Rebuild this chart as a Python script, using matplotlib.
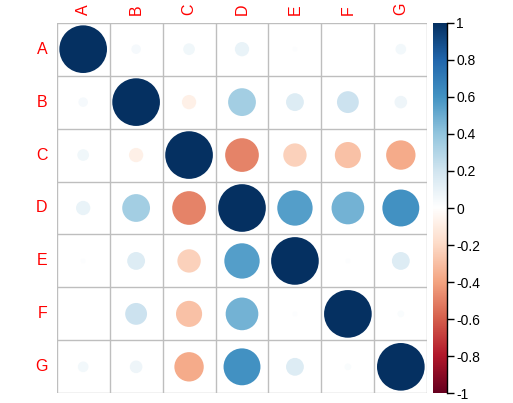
import numpy as np
import matplotlib.pyplot as plt
from matplotlib.colors import LinearSegmentedColormap
from matplotlib.patches import Circle

plt.rcParams['font.family'] = ['Liberation Sans', 'DejaVu Sans']
plt.rcParams['axes.unicode_minus'] = False

labels = ['A', 'B', 'C', 'D', 'E', 'F', 'G']

# 相关系数矩阵
row_A = [1.00, 0.04, 0.06, 0.09, 0.01, 0.00, 0.05]
row_B = [0.04, 1.00, -0.09, 0.34, 0.14, 0.21, 0.07]
row_C = [0.06, -0.09, 1.00, -0.50, -0.24, -0.30, -0.38]
row_D = [0.09, 0.34, -0.50, 1.00, 0.55, 0.47, 0.60]
row_E = [0.01, 0.14, -0.24, 0.55, 1.00, 0.01, 0.14]
row_F = [0.00, 0.21, -0.30, 0.47, 0.01, 1.00, 0.02]
row_G = [0.05, 0.07, -0.38, 0.60, 0.14, 0.02, 1.00]

corr = np.array([row_A, row_B, row_C, row_D, row_E, row_F, row_G])

cbar_ticks = [1, 0.8, 0.6, 0.4, 0.2, 0, -0.2, -0.4, -0.6, -0.8, -1]

# corrplot 默认的 RdBu 配色
rdbu = ["#67001F", "#B2182B", "#D6604D", "#F4A582", "#FDDBC7", "#FFFFFF",
        "#D1E5F0", "#92C5DE", "#4393C3", "#2166AC", "#053061"]
cmap = LinearSegmentedColormap.from_list('corrRdBu', rdbu, N=200)

W, H = 513, 403
fig = plt.figure(figsize=(W / 100, H / 100), dpi=100)

gl, gt, gs = 56.7, 22.7, 370.6
ax = fig.add_axes([gl / W, (H - gt - gs) / H, gs / W, gs / H])
n = len(labels)
ax.set_xlim(0, n)
ax.set_ylim(n, 0)
ax.set_aspect('equal')

for i in range(n):
    for j in range(n):
        r = corr[i, j]
        c = Circle((j + 0.5, i + 0.5), 0.45 * np.sqrt(abs(r)),
                   color=cmap((r + 1) / 2), lw=0, zorder=2)
        ax.add_patch(c)

for k in range(n + 1):
    ax.axhline(k, color='#BEBEBE', lw=1, zorder=1)
    ax.axvline(k, color='#BEBEBE', lw=1, zorder=1)

for s in ax.spines.values():
    s.set_visible(False)
ax.set_xticks([])
ax.set_yticks([])

for k, lab in enumerate(labels):
    ax.text(-0.17, k + 0.5, lab, color='red', fontsize=11.5,
            ha='right', va='center')
    ax.text(k + 0.5, -0.15, lab, color='red', fontsize=11.5,
            ha='center', va='bottom', rotation=90)

# 颜色条
cl, cw = 433.3, 13.2
cax = fig.add_axes([cl / W, (H - gt - gs) / H, cw / W, gs / H])
grad = np.linspace(-1, 1, 200).reshape(-1, 1)
cax.imshow(grad, cmap=cmap, aspect='auto', origin='lower',
           extent=[0, 1, -1, 1], vmin=-1, vmax=1)
cax.set_xlim(0, 1)
cax.set_ylim(-1, 1)
for side in ['left', 'top', 'bottom']:
    cax.spines[side].set_visible(False)
cax.spines['right'].set_linewidth(1)
cax.set_xticks([])
cax.yaxis.tick_right()
cax.set_yticks(cbar_ticks)
cax.set_yticklabels([f'{t:g}' for t in cbar_ticks])
cax.tick_params(axis='y', length=5, width=1, labelsize=10, pad=2)

fig.savefig('out.png', dpi=100)
